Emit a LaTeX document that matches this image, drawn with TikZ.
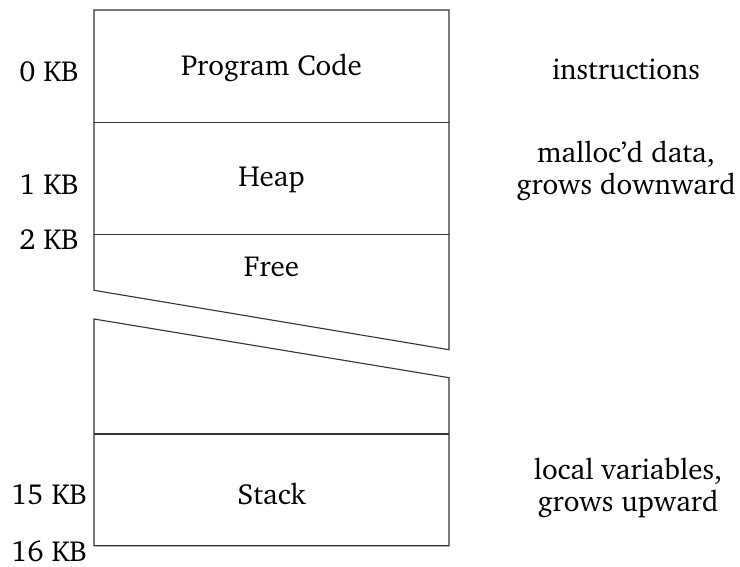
\documentclass[tikz,border=0pt]{standalone}
\usepackage[T1]{fontenc}
\renewcommand{\rmdefault}{bch}
\begin{document}
\begin{tikzpicture}[x=1pt,y=-1pt,line width=1.1pt,
  txt/.style={font=\fontsize{29}{32}\selectfont,inner sep=0pt,align=center},
  seg/.style={draw=black!80}]
\useasboundingbox (0,0) rectangle (740,567);
% coordinates
\coordinate (tl) at (94,10);
\coordinate (tr) at (449,10);
\coordinate (h1l) at (94,122.7);
\coordinate (h1r) at (449,122.7);
\coordinate (h2l) at (94,234.7);
\coordinate (h2r) at (449,234.7);
\coordinate (fl) at (94,290.3);
\coordinate (fr) at (449,349.7);
\coordinate (sl) at (94,319);
\coordinate (sr) at (449,377.7);
\coordinate (s1l) at (94,434);
\coordinate (s1r) at (449,434);
\coordinate (bl) at (94,545.7);
\coordinate (br) at (449,545.7);
% upper part
\draw[seg] (fl) -- (tl) -- (tr) -- (fr) -- cycle;
\draw[seg] (h1l) -- (h1r);
\draw[seg] (h2l) -- (h2r);
% lower part
\draw[seg] (sl) -- (sr) -- (br) -- (bl) -- cycle;
\draw[seg] (s1l) -- (s1r);
% segment labels
\node[txt] (code) at (271.5,68) {Program Code};
\node[txt] (heap) at (271.5,180) {Heap};
\node[txt] (free) at (271.5,267) {Free};
\node[txt] (stack) at (271.5,494) {Stack};
% addresses
\node[txt] (a0) at (49,72) {0 KB};
\node[txt] (a1) at (49,185) {1 KB};
\node[txt] (a2) at (49,240) {2 KB};
\node[txt] (a15) at (49,495) {15 KB};
\node[txt] (a16) at (49,551) {16 KB};
% notes
\node[txt] (n0) at (626,69) {instructions};
\node[txt] (n1) at (626,171) {malloc'd data,\\grows downward};
\node[txt] (n2) at (628,488) {local variables,\\grows upward};
\end{tikzpicture}
\end{document}
